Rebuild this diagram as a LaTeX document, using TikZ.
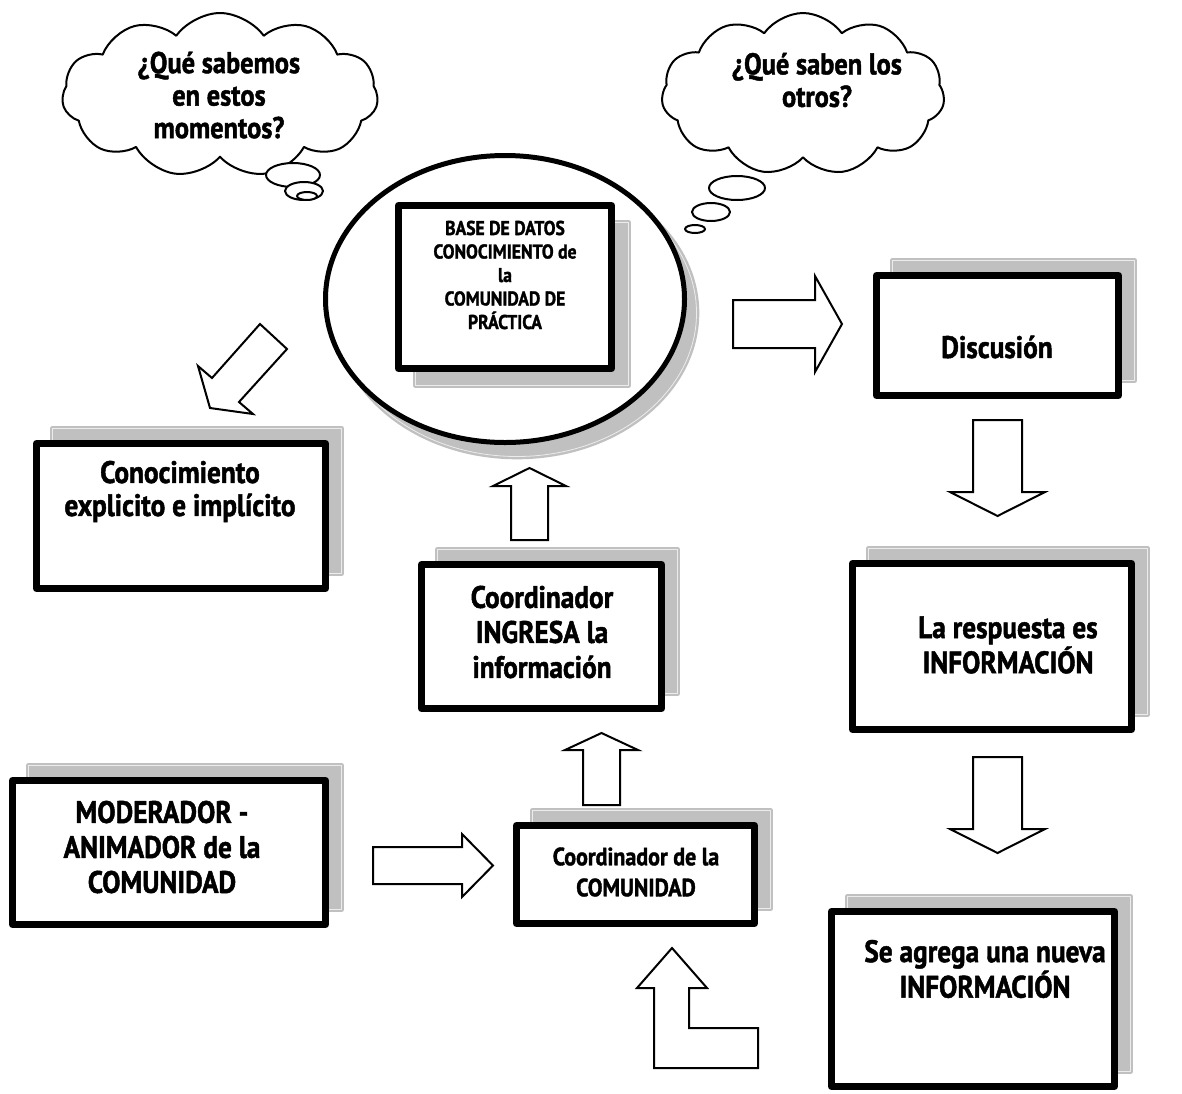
\documentclass[tikz,border=0pt]{standalone}
\usepackage{fontspec}
\setmainfont{PT Sans}[FakeStretch=0.88, BoldFeatures={FakeBold=1.5}]
\usetikzlibrary{shapes.geometric,shapes.symbols,shadows}

\definecolor{shadowgray}{RGB}{192,192,192}
\definecolor{shadowline}{RGB}{236,236,236}

\tikzset{
  shadowup/.style={general shadow={shadow xshift=8pt, shadow yshift=7.5pt, fill=shadowgray, draw=shadowgray, line width=1.2pt, double=shadowline, double distance=0.4pt}},
  shadowdown/.style={general shadow={shadow xshift=8.5pt, shadow yshift=-8.5pt, fill=shadowgray, draw=shadowgray, line width=1.2pt, double=shadowline, double distance=0.4pt}},
  infobox/.style={draw, line width=3.5pt, fill=white, inner sep=0pt},
  bigtxt/.style={align=center, font=\fontsize{15.5}{17.5}\selectfont\bfseries},
  blockarrow/.style={draw, line width=1pt, fill=white, line join=miter},
  thought/.style={cloud, draw, line width=1pt, fill=white, cloud puffs=11, cloud puff arc=110, inner sep=0pt},
  bubble/.style={draw, line width=1pt, fill=white}
}

\begin{document}
\begin{tikzpicture}[x=0.5pt, y=-0.5pt, line join=round, line cap=round]
	\useasboundingbox (0,0) rectangle (1182,1093);

	\node[thought, minimum width=158pt, minimum height=82pt, aspect=1.93] (cloudA) at (220,95) {};
	\draw[bubble] (293,175) ellipse [x radius=13.5pt, y radius=6pt];
	\draw[bubble] (304,191) ellipse [x radius=9.5pt, y radius=4.5pt];
	\draw[bubble] (307,196) ellipse [x radius=5pt, y radius=2pt];
	\node[bigtxt, font=\fontsize{15}{16.25}\selectfont\bfseries] (cloudA-t) at (219,95) {¿Qué sabemos\\en estos\\momentos?};

	\node[thought, minimum width=141.5pt, minimum height=81pt, aspect=1.75] (cloudB) at (803,94) {};
	\draw[bubble] (737,188) ellipse [x radius=14pt, y radius=6pt];
	\draw[bubble] (711,212) ellipse [x radius=9.5pt, y radius=4.5pt];
	\draw[bubble] (695,229) ellipse [x radius=5pt, y radius=2pt];
	\node[bigtxt, font=\fontsize{15}{16.25}\selectfont\bfseries] (cloudB-t) at (817,80) {¿Qué saben los\\otros?};

	\node[ellipse, draw, line width=2.5pt, fill=white, inner sep=0pt, minimum width=179.5pt, minimum height=143.5pt,
		general shadow={shadow xshift=6pt, shadow yshift=-7pt, fill=shadowgray, draw=shadowgray, line width=1.2pt, double=shadowline, double distance=0.4pt}] (db) at (505,299) {};
	\node[infobox, shadowdown, minimum width=106.5pt, minimum height=81.5pt] (base) at (505,287) {};
	\node[align=center, font=\fontsize{10}{11.75}\selectfont\bfseries] (base-t) at (505,275) {BASE DE DATOS\\CONOCIMIENTO de\\la\\COMUNIDAD DE\\PRÁCTICA};

	\node[infobox, shadowup, minimum width=121pt, minimum height=60pt] (disc) at (997.5,335.5) {};
	\node[bigtxt] (disc-t) at (997,347) {Discusión};

	\node[infobox, shadowup, minimum width=139.5pt, minimum height=83pt] (resp) at (992,646.5) {};
	\node[bigtxt, font=\fontsize{15.5}{16}\selectfont\bfseries] (resp-t) at (1008,645) {La respuesta es\\INFORMACIÓN};

	\node[infobox, shadowup, minimum width=141.5pt, minimum height=87.5pt] (agrega) at (973,999) {};
	\node[bigtxt, font=\fontsize{15.5}{16}\selectfont\bfseries] (agrega-t) at (985,969) {Se agrega una nueva\\INFORMACIÓN};

	\node[infobox, shadowup, minimum width=144.5pt, minimum height=72.5pt] (cono) at (181,516) {};
	\node[bigtxt, font=\fontsize{15.5}{16.5}\selectfont\bfseries] (cono-t) at (180,491.5) {Conocimiento\\explicito e implícito};

	\node[infobox, shadowup, minimum width=120pt, minimum height=72pt] (ingresa) at (541.5,636.5) {};
	\node[bigtxt] (ingresa-t) at (542,632) {Coordinador\\INGRESA la\\información};

	\node[infobox, shadowup, minimum width=156.5pt, minimum height=72pt] (moder) at (169,852.5) {};
	\node[bigtxt] (moder-t) at (162,847) {MODERADOR -\\ANIMADOR de la\\COMUNIDAD};

	\node[infobox, shadowup, minimum width=119pt, minimum height=49pt] (coord) at (635.5,874.5) {};
	\node[align=center, font=\fontsize{12.5}{15.5}\selectfont\bfseries] (coord-t) at (636,872) {Coordinador de la\\COMUNIDAD};

	\draw[blockarrow] (733,300) -- (815,300) -- (815,276) -- (842,324) -- (815,372) -- (815,348) -- (733,348) -- cycle;
	\draw[blockarrow] (973,420) -- (1022,420) -- (1022,492) -- (1045,492) -- (997.5,516) -- (950,492) -- (973,492) -- cycle;
	\draw[blockarrow] (973,757) -- (1022,757) -- (1022,829) -- (1045,829) -- (997.5,853) -- (950,829) -- (973,829) -- cycle;
	\draw[blockarrow] (260,324) -- (287,349) -- (239,402) -- (253,414) -- (210,408) -- (198,366) -- (212,378) -- cycle;
	\draw[blockarrow] (511,540) -- (511,486) -- (493,486) -- (529.5,468) -- (566,486) -- (548,486) -- (548,540) -- cycle;
	\draw[blockarrow] (583,805) -- (583,750) -- (565,750) -- (601.5,733) -- (638,750) -- (620,750) -- (620,805) -- cycle;
	\draw[blockarrow] (373,847) -- (462,847) -- (462,834) -- (493,865.5) -- (462,897) -- (462,884) -- (373,884) -- cycle;
	\draw[blockarrow] (672,948) -- (707,988) -- (689,988) -- (689,1028) -- (758,1028) -- (758,1068) -- (654,1068) -- (654,988) -- (637,988) -- cycle;
\end{tikzpicture}
\end{document}
